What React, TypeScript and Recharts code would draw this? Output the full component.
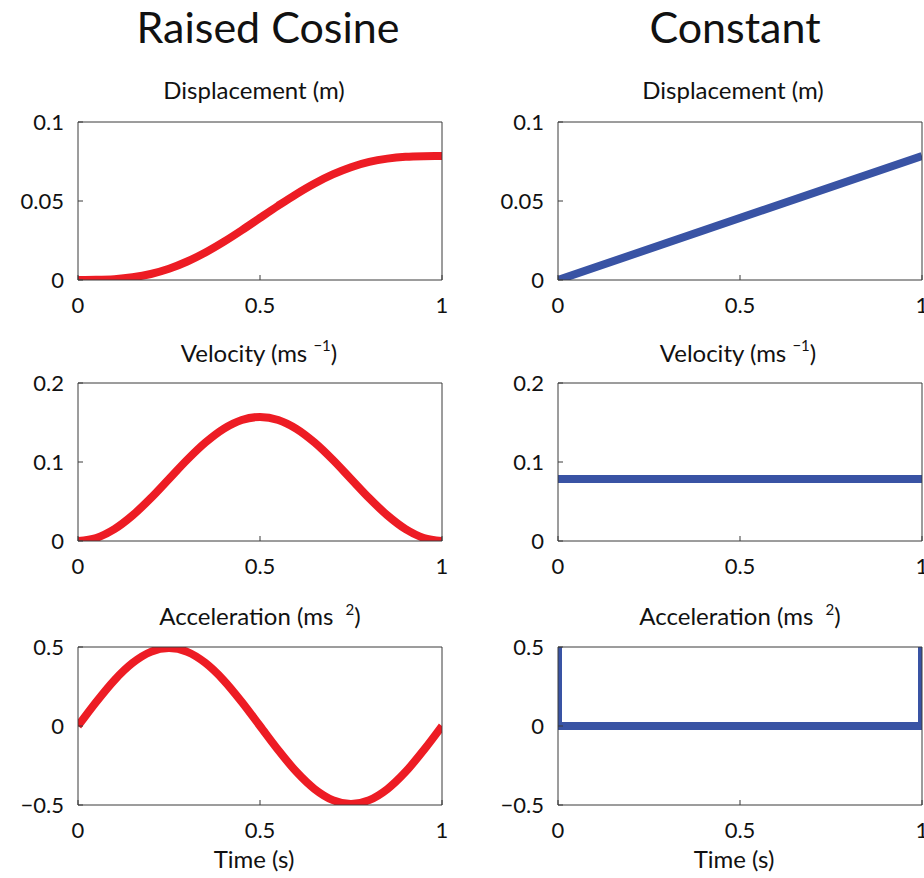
import React from 'react';
import { LineChart, Line, XAxis, YAxis } from 'recharts';

// raised cosine profile, sampled every 0.05 s
const TIME = [0, 0.05, 0.1, 0.15, 0.2, 0.25, 0.3, 0.35, 0.4, 0.45, 0.5, 0.55, 0.6, 0.65, 0.7, 0.75, 0.8, 0.85, 0.9, 0.95, 1];
const RC_DISPLACEMENT = [0, 0.0001, 0.0005, 0.0017, 0.0038, 0.0071, 0.0117, 0.0174, 0.0241, 0.0315, 0.0393, 0.047, 0.0544, 0.0611, 0.0668, 0.0714, 0.0747, 0.0768, 0.078, 0.0784, 0.0785];
const RC_VELOCITY = [0, 0.0038, 0.015, 0.0324, 0.0542, 0.0785, 0.1028, 0.1246, 0.142, 0.1532, 0.157, 0.1532, 0.142, 0.1246, 0.1028, 0.0785, 0.0542, 0.0324, 0.015, 0.0038, 0];
const RC_ACCELERATION = [0, 0.152, 0.29, 0.399, 0.469, 0.493, 0.469, 0.399, 0.29, 0.152, 0, -0.152, -0.29, -0.399, -0.469, -0.493, -0.469, -0.399, -0.29, -0.152, 0];

// constant velocity profile
const CONST_TIME = [0, 1];
const CONST_DISPLACEMENT = [0, 0.0785];
const CONST_VELOCITY = [0.0785, 0.0785];
const CONST_ACC_TIME = [0, 0, 1, 1];
const CONST_ACCELERATION = [0.5, 0, 0, 0.5];

const X_TICKS = [0, 0.5, 1];
const DISP_TICKS = [0, 0.05, 0.1];
const VEL_TICKS = [0, 0.1, 0.2];
const ACC_TICKS = [-0.5, 0, 0.5];

const RED = '#ed1c24';
const BLUE = '#3953a4';
const AXIS = '#3a3a3a';
const TEXT = '#111';
const FONT = 'Lato, "Open Sans", sans-serif';

const zip = (xs: number[], ys: number[]) => xs.map((x, i) => ({ x, y: ys[i] }));
const fmtY = (v: number) => (v < 0 ? `\u2212${Math.abs(v)}` : String(v));

const PLOT_H = 158;
const PAD_TOP = 20;

type PanelProps = {
  col: 0 | 1;
  plotTop: number;
  data: { x: number; y: number }[];
  domain: [number, number];
  ticks: number[];
  color: string;
  curve: 'monotone' | 'linear';
};

function Panel({ col, plotTop, data, domain, ticks, color, curve }: PanelProps) {
  const left = col === 0 ? 0 : 460;
  const width = col === 0 ? 460 : 464;
  const axisWidth = col === 0 ? 78 : 98;
  const rightMargin = col === 0 ? 17 : 1;
  return (
    <div style={{ position: 'absolute', left, top: plotTop - PAD_TOP }}>
      <LineChart
        width={width}
        height={PAD_TOP + PLOT_H + 40}
        data={data}
        margin={{ top: PAD_TOP - 1, right: rightMargin, left: 0, bottom: 0 }}
      >
        <XAxis
          xAxisId="bottom"
          dataKey="x"
          type="number"
          domain={[0, 1]}
          ticks={X_TICKS}
          interval={0}
          allowDataOverflow
          height={40}
          tickSize={-5}
          tickMargin={22}
          stroke={AXIS}
          tick={{ fontSize: 22, fill: TEXT }}
        />
        <XAxis
          xAxisId="top"
          orientation="top"
          type="number"
          domain={[0, 1]}
          ticks={X_TICKS}
          interval={0}
          height={1}
          tickSize={-5}
          tick={false}
          stroke={AXIS}
        />
        <YAxis
          yAxisId="left"
          type="number"
          domain={domain}
          ticks={ticks}
          interval={0}
          allowDataOverflow
          width={axisWidth}
          tickSize={-5}
          tickMargin={19}
          tickFormatter={fmtY}
          stroke={AXIS}
          tick={{ fontSize: 22, fill: TEXT }}
        />
        <YAxis
          yAxisId="right"
          orientation="right"
          type="number"
          domain={domain}
          ticks={ticks}
          interval={0}
          width={1}
          tickSize={-5}
          tick={false}
          stroke={AXIS}
        />
        <Line
          xAxisId="bottom"
          yAxisId="left"
          dataKey="y"
          type={curve}
          stroke={color}
          strokeWidth={8}
          dot={false}
          activeDot={false}
          isAnimationActive={false}
        />
      </LineChart>
    </div>
  );
}

export default function App() {
  return (
    <div style={{ position: 'absolute', left: 0, top: 0, width: 924, height: 878, background: '#fff', fontFamily: FONT }}>
      <Panel col={0} plotTop={122} data={zip(TIME, RC_DISPLACEMENT)} domain={[0, 0.1]} ticks={DISP_TICKS} color={RED} curve="monotone" />
      <Panel col={0} plotTop={383} data={zip(TIME, RC_VELOCITY)} domain={[0, 0.2]} ticks={VEL_TICKS} color={RED} curve="monotone" />
      <Panel col={0} plotTop={647} data={zip(TIME, RC_ACCELERATION)} domain={[-0.5, 0.5]} ticks={ACC_TICKS} color={RED} curve="monotone" />
      <Panel col={1} plotTop={122} data={zip(CONST_TIME, CONST_DISPLACEMENT)} domain={[0, 0.1]} ticks={DISP_TICKS} color={BLUE} curve="linear" />
      <Panel col={1} plotTop={383} data={zip(CONST_TIME, CONST_VELOCITY)} domain={[0, 0.2]} ticks={VEL_TICKS} color={BLUE} curve="linear" />
      <Panel col={1} plotTop={647} data={zip(CONST_ACC_TIME, CONST_ACCELERATION)} domain={[-0.5, 0.5]} ticks={ACC_TICKS} color={BLUE} curve="linear" />

      <svg width={924} height={878} style={{ position: 'absolute', left: 0, top: 0, pointerEvents: 'none' }} fontFamily={FONT} fill={TEXT}>
        <text x={268} y={43} fontSize={43} textAnchor="middle">Raised Cosine</text>
        <text x={735} y={43} fontSize={43} textAnchor="middle">Constant</text>

        <text x={254} y={99} fontSize={24} textAnchor="middle">Displacement (m)</text>
        <text x={733} y={99} fontSize={24} textAnchor="middle">Displacement (m)</text>

        <text x={259} y={362} fontSize={24} textAnchor="middle">
          Velocity (ms <tspan dy={-11} fontSize={15}>{'\u22121'}</tspan>
          <tspan dy={11}>)</tspan>
        </text>
        <text x={738} y={362} fontSize={24} textAnchor="middle">
          Velocity (ms <tspan dy={-11} fontSize={15}>{'\u22121'}</tspan>
          <tspan dy={11}>)</tspan>
        </text>

        <text x={260} y={625} fontSize={24} textAnchor="middle">
          Acceleration (ms <tspan dx={6} dy={-10} fontSize={15}>2</tspan>
          <tspan dy={10}>)</tspan>
        </text>
        <text x={740} y={625} fontSize={24} textAnchor="middle">
          Acceleration (ms <tspan dx={6} dy={-10} fontSize={15}>2</tspan>
          <tspan dy={10}>)</tspan>
        </text>

        <text x={254} y={868} fontSize={24} textAnchor="middle">Time (s)</text>
        <text x={734} y={868} fontSize={24} textAnchor="middle">Time (s)</text>
      </svg>
    </div>
  );
}
